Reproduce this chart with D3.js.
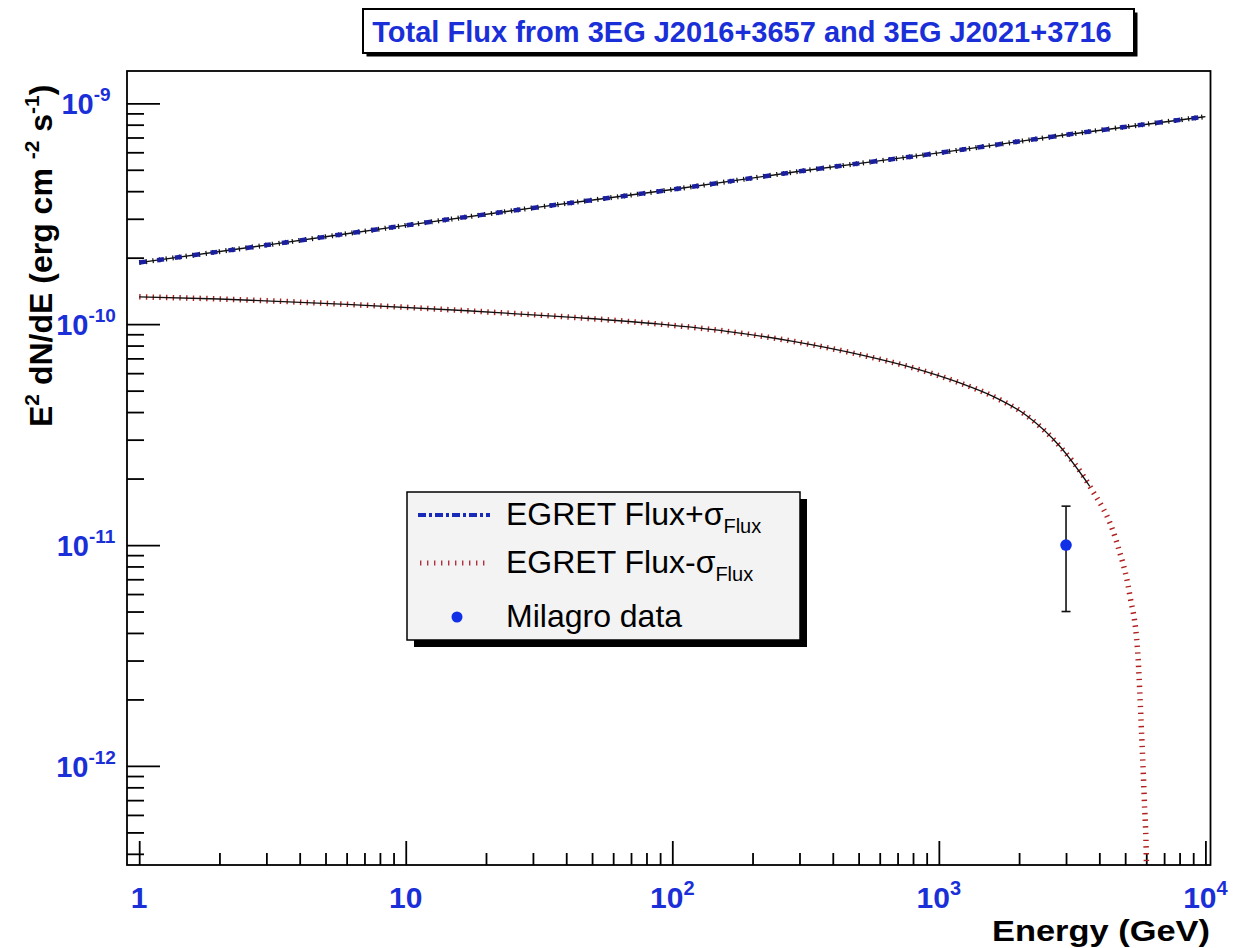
<!DOCTYPE html>
<html>
<head>
<meta charset="utf-8">
<script src="https://cdn.jsdelivr.net/npm/d3@7/dist/d3.min.js"></script>
<style>
  html, body { margin: 0; padding: 0; background: #ffffff; }
  svg { display: block; }
  text { font-family: "Liberation Sans", Arial, Helvetica, sans-serif; }
</style>
</head>
<body>
<svg id="chart" width="1243" height="948"></svg>
<script>
// ---- data ---------------------------------------------------------------
const titleText = "Total Flux from 3EG J2016+3657 and 3EG J2021+3716";

// EGRET flux + sigma (GeV, erg cm^-2 s^-1)
const plusEnergy = [1, 3, 10, 30, 100, 300, 1000, 3000, 10000];
const plusFlux   = [1.90e-10, 2.28e-10, 2.80e-10, 3.36e-10, 4.07e-10, 4.92e-10, 5.96e-10, 7.20e-10, 8.70e-10];

// EGRET flux - sigma, with the high-energy cutoff
const minusEnergy = [1, 2, 6, 17, 44, 90, 160, 284, 505, 800, 1198, 1597, 2131, 2843, 3683, 4651, 5200, 5572, 5754, 5900, 6010, 6060];
const minusFlux   = [1.33e-10, 1.30e-10, 1.23e-10, 1.15e-10, 1.07e-10, 1.00e-10, 9.28e-11, 8.36e-11, 7.28e-11, 6.34e-11,
                     5.42e-11, 4.71e-11, 3.86e-11, 2.80e-11, 1.845e-11, 1.026e-11, 5.97e-12, 3.27e-12, 1.46e-12, 7.0e-13,
                     3.56e-13, 1.0e-13];

// Milagro point with asymmetric error bar
const milagroEnergy = [3000];
const milagroFlux   = [1.0e-11];
const milagroLow    = [5.0e-12];
const milagroHigh   = [1.5e-11];

// axis labelling
const xMajorTicks = [1, 10, 100, 1000, 10000];
const xTickBase   = ["1", "10", "10", "10", "10"];
const xTickExp    = ["", "", "2", "3", "4"];
const yMajorTicks = [1e-9, 1e-10, 1e-11, 1e-12];
const yTickExp    = ["-9", "-10", "-11", "-12"];

const legendLabels = ["EGRET Flux+\u03C3", "EGRET Flux-\u03C3", "Milagro data"];
const legendSubs   = ["Flux", "Flux", ""];

// ---- layout ---------------------------------------------------------------
const svg = d3.select("#chart");
const frame = { left: 127, right: 1210.5, top: 71, bottom: 865 };
const blueLabel = "#1a2fd8";

const x = d3.scaleLog().domain([0.9, 10450]).range([frame.left, frame.right]);
const y = d3.scaleLog().domain([3.56e-13, 1.40e-9]).range([frame.bottom, frame.top]);

function minorTicks(scale) {
  const [lo, hi] = scale.domain();
  const out = [];
  for (let d = Math.floor(Math.log10(lo)); d <= Math.ceil(Math.log10(hi)); d++) {
    for (let k = 2; k <= 9; k++) {
      const v = k * Math.pow(10, d);
      if (v > lo * 1.001 && v < hi * 0.999) out.push(v);
    }
  }
  return out;
}

// clip region for the curves
svg.append("defs").append("clipPath").attr("id", "plotClip")
  .append("rect")
  .attr("x", frame.left).attr("y", frame.top)
  .attr("width", frame.right - frame.left).attr("height", frame.bottom - frame.top);

// ---- axes (ticks drawn inward) -------------------------------------------
function styleAxis(g) {
  g.select(".domain").remove();
  g.selectAll(".tick line").attr("stroke", "#000").attr("stroke-width", 1.8);
  g.selectAll(".tick text").remove();
}
svg.append("g").attr("transform", `translate(0,${frame.bottom})`)
  .call(d3.axisBottom(x).tickValues(minorTicks(x)).tickSize(-12).tickFormat(""))
  .call(styleAxis);
svg.append("g").attr("transform", `translate(0,${frame.bottom})`)
  .call(d3.axisBottom(x).tickValues(xMajorTicks).tickSize(-24).tickFormat(""))
  .call(styleAxis);
svg.append("g").attr("transform", `translate(${frame.left},0)`)
  .call(d3.axisLeft(y).tickValues(minorTicks(y)).tickSize(-17).tickFormat(""))
  .call(styleAxis);
svg.append("g").attr("transform", `translate(${frame.left},0)`)
  .call(d3.axisLeft(y).tickValues(yMajorTicks).tickSize(-33).tickFormat(""))
  .call(styleAxis);

// ---- curves ---------------------------------------------------------------
const plot = svg.append("g").attr("clip-path", "url(#plotClip)");
const line = d3.line()
  .x(d => x(d[0])).y(d => y(d[1]))
  .curve(d3.curveMonotoneX);

const plusData  = plusEnergy.map((e, i) => [e, plusFlux[i]]);
const minusData = minusEnergy.map((e, i) => [e, minusFlux[i]]);

// lower curve: red bin markers; the thin black line stops where the cutoff steepens
plot.append("path").datum(minusData).attr("d", line)
  .attr("fill", "none").attr("stroke", "#b02020").attr("stroke-width", 5.5)
  .attr("stroke-dasharray", "1.4,5.3");
plot.append("path").datum(minusData.filter(d => d[0] <= 3683)).attr("d", line)
  .attr("fill", "none").attr("stroke", "#111").attr("stroke-width", 1.3);

// upper curve: black line with bin markers, blue dashes on top
plot.append("path").datum(plusData).attr("d", line)
  .attr("fill", "none").attr("stroke", "#111").attr("stroke-width", 1.4);
plot.append("path").datum(plusData).attr("d", line)
  .attr("fill", "none").attr("stroke", "#111").attr("stroke-width", 5)
  .attr("stroke-dasharray", "1.2,5.5");
plot.append("path").datum(plusData).attr("d", line)
  .attr("fill", "none").attr("stroke", "#1a1fa0").attr("stroke-width", 4.5)
  .attr("stroke-dasharray", "7,11");

// ---- Milagro point ----------------------------------------------------------
const mil = svg.append("g");
milagroEnergy.forEach((e, i) => {
  const cx = x(e);
  mil.append("line").attr("x1", cx).attr("x2", cx)
    .attr("y1", y(milagroLow[i])).attr("y2", y(milagroHigh[i]))
    .attr("stroke", "#111").attr("stroke-width", 1.6);
  [milagroLow[i], milagroHigh[i]].forEach(v => {
    mil.append("line").attr("x1", cx - 4.5).attr("x2", cx + 4.5)
      .attr("y1", y(v)).attr("y2", y(v))
      .attr("stroke", "#111").attr("stroke-width", 1.6);
  });
  mil.append("circle").attr("cx", cx).attr("cy", y(milagroFlux[i])).attr("r", 5.8)
    .attr("fill", "#1030e8");
});

// ---- frame ----------------------------------------------------------------
svg.append("rect")
  .attr("x", frame.left).attr("y", frame.top)
  .attr("width", frame.right - frame.left).attr("height", frame.bottom - frame.top)
  .attr("fill", "none").attr("stroke", "#000").attr("stroke-width", 1.8);

// ---- tick labels -------------------------------------------------------------
const xl = svg.append("g");
xMajorTicks.forEach((v, i) => {
  const t = xl.append("text").attr("x", x(v)).attr("y", 908)
    .attr("text-anchor", "middle").attr("font-weight", "bold")
    .attr("font-size", 30).attr("fill", blueLabel);
  t.append("tspan").text(xTickBase[i]);
  if (xTickExp[i]) t.append("tspan").attr("dy", -13).attr("font-size", 20).text(xTickExp[i]);
});

const yl = svg.append("g");
yMajorTicks.forEach((v, i) => {
  const t = yl.append("text").attr("x", 86).attr("y", y(v) + 11)
    .attr("text-anchor", "middle").attr("font-weight", "bold")
    .attr("font-size", 29).attr("fill", blueLabel);
  t.append("tspan").text("10");
  t.append("tspan").attr("dy", -13).attr("font-size", 19).text(yTickExp[i]);
});

// ---- axis titles -------------------------------------------------------------
svg.append("text").attr("x", 1210).attr("y", 941)
  .attr("text-anchor", "end").attr("font-weight", "bold")
  .attr("font-size", 29).attr("fill", "#000")
  .attr("textLength", 218).attr("lengthAdjust", "spacingAndGlyphs")
  .text("Energy (GeV)");

const yt = svg.append("text")
  .attr("transform", "translate(52,427) rotate(-90)")
  .attr("font-weight", "bold").attr("font-size", 32).attr("fill", "#000");
yt.append("tspan").text("E");
yt.append("tspan").attr("dy", -13).attr("font-size", 21).text("2");
yt.append("tspan").attr("dy", 13).text(" dN/dE (erg cm ");
yt.append("tspan").attr("dy", -13).attr("font-size", 21).text("-2");
yt.append("tspan").attr("dy", 13).text(" s");
yt.append("tspan").attr("dy", -13).attr("font-size", 21).text("-1");
yt.append("tspan").attr("dy", 13).text(")");

// ---- title box -------------------------------------------------------------
const tb = { x: 363, y: 9, w: 771, h: 44 };
svg.append("rect").attr("x", tb.x + 3.5).attr("y", tb.y + 3.5).attr("width", tb.w).attr("height", tb.h)
  .attr("fill", "#000");
svg.append("rect").attr("x", tb.x).attr("y", tb.y).attr("width", tb.w).attr("height", tb.h)
  .attr("fill", "#fff").attr("stroke", "#000").attr("stroke-width", 2);
svg.append("text").attr("x", 742).attr("y", 42)
  .attr("text-anchor", "middle").attr("font-weight", "bold")
  .attr("font-size", 29).attr("fill", blueLabel).text(titleText);

// ---- legend ----------------------------------------------------------------
const lg = { x: 407, y: 492, w: 393, h: 148 };
svg.append("rect").attr("x", lg.x + 7).attr("y", lg.y + 7).attr("width", lg.w).attr("height", lg.h)
  .attr("fill", "#000");
svg.append("rect").attr("x", lg.x).attr("y", lg.y).attr("width", lg.w).attr("height", lg.h)
  .attr("fill", "#f3f3f3").attr("stroke", "#000").attr("stroke-width", 1.5);

const rowY = [515, 563, 617];
const leg = svg.append("g");
// samples
leg.append("line").attr("x1", 418).attr("x2", 490).attr("y1", rowY[0]).attr("y2", rowY[0])
  .attr("stroke", "#1a2ab8").attr("stroke-width", 4).attr("stroke-dasharray", "8,3,3,3");
leg.append("line").attr("x1", 420).attr("x2", 490).attr("y1", rowY[1]).attr("y2", rowY[1])
  .attr("stroke", "#b03040").attr("stroke-width", 5).attr("stroke-dasharray", "1.4,5.6");
leg.append("circle").attr("cx", 457).attr("cy", rowY[2]).attr("r", 5.5).attr("fill", "#1030e8");

legendLabels.forEach((lab, i) => {
  const t = leg.append("text").attr("x", 506).attr("y", rowY[i] + 10)
    .attr("font-size", 32).attr("fill", "#000");
  t.append("tspan").text(lab);
  if (legendSubs[i]) t.append("tspan").attr("dy", 8).attr("font-size", 20).text(legendSubs[i]);
});
</script>
</body>
</html>
